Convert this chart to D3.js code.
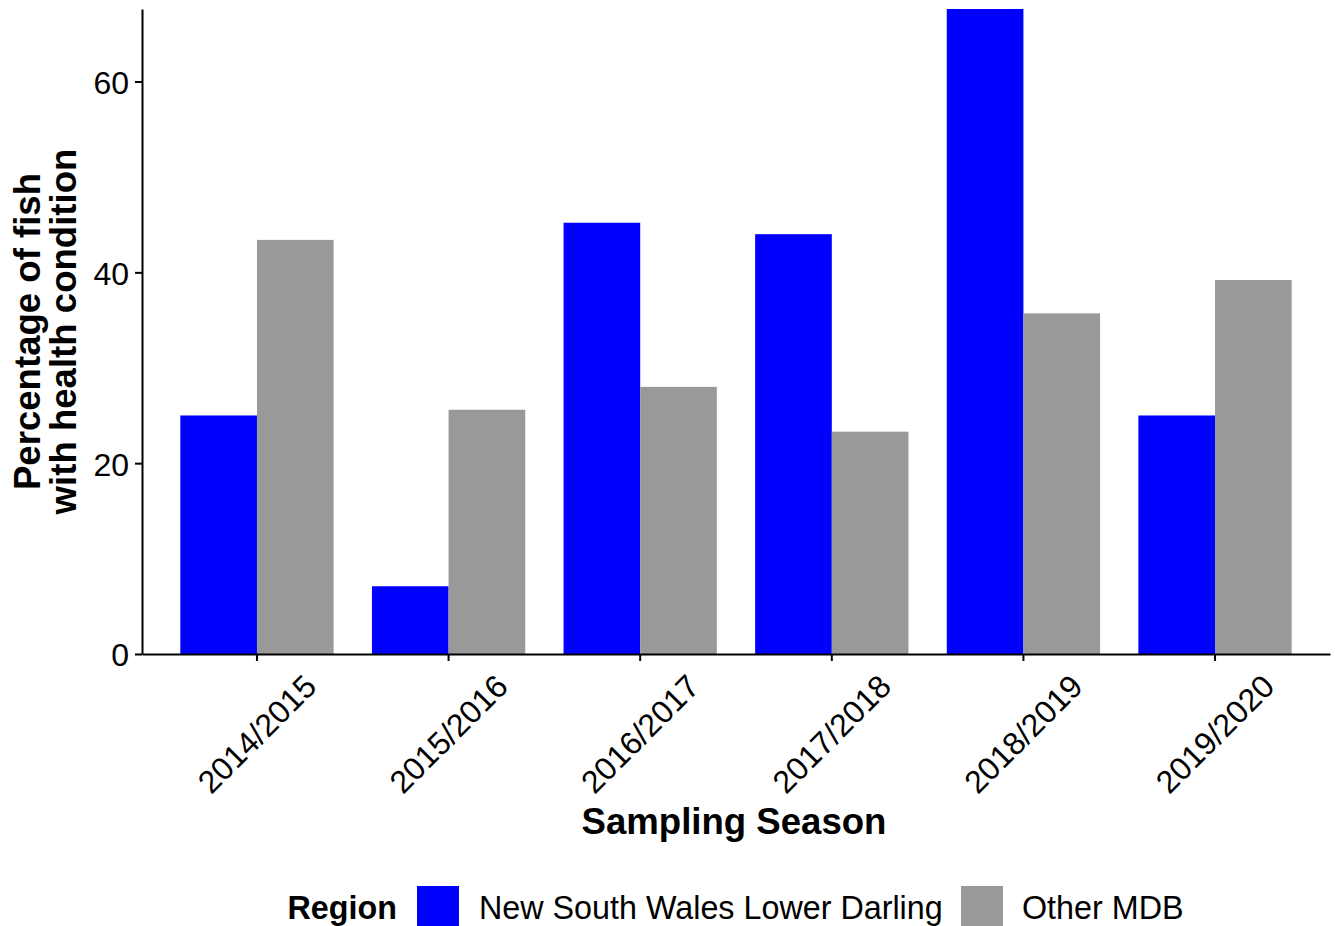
<!DOCTYPE html>
<html>
<head>
<meta charset="utf-8">
<script src="https://cdn.jsdelivr.net/npm/d3@7"></script>
<style>
  html, body { margin: 0; padding: 0; background: #ffffff; }
  svg { display: block; font-family: "Liberation Sans", Arial, sans-serif; }
</style>
</head>
<body>
<svg id="chart" width="1335" height="926"></svg>
<script>
// Sampling seasons (x categories)
const seasons = ["2014/2015", "2015/2016", "2016/2017", "2017/2018", "2018/2019", "2019/2020"];
// Regions (fill groups)
const regions = ["New South Wales Lower Darling", "Other MDB"];
const regionColors = ["#0000ff", "#999999"];
// Percentage of fish with a health condition, per season
const nswLowerDarling = [25.0, 7.1, 45.2, 44.0, 67.6, 25.0];
const otherMDB = [43.4, 25.6, 28.0, 23.3, 35.7, 39.2];
// Y axis ticks
const yTicks = [0, 20, 40, 60];
const yMax = 67.6;

const seriesByRegion = [nswLowerDarling, otherMDB];
const rows = [];
seasons.forEach((s, i) => {
  regions.forEach((r, j) => rows.push({ season: s, region: r, value: seriesByRegion[j][i] }));
});

const svg = d3.select("#chart");
const plot = { left: 142, right: 1330, top: 9, bottom: 654 };
const FONT = "Liberation Sans, Arial, sans-serif";

const x = d3.scaleBand().domain(seasons)
  .range([plot.left, plot.right]).paddingInner(0.2).paddingOuter(0.2);
const xInner = d3.scaleBand().domain(regions).range([0, x.bandwidth()]).padding(0);
const y = d3.scaleLinear().domain([0, yMax]).range([plot.bottom, plot.top]);
const color = d3.scaleOrdinal().domain(regions).range(regionColors);

// Bars
svg.append("g").selectAll("rect").data(rows).join("rect")
  .attr("x", d => x(d.season) + xInner(d.region))
  .attr("y", d => y(d.value))
  .attr("width", xInner.bandwidth())
  .attr("height", d => y(0) - y(d.value))
  .attr("fill", d => color(d.region));

// Y axis
const yAxis = svg.append("g")
  .attr("transform", `translate(${plot.left},0)`)
  .call(d3.axisLeft(y).tickValues(yTicks).tickSize(7).tickSizeOuter(0).tickPadding(6));
yAxis.selectAll("text").attr("font-size", 32).attr("fill", "#000")
  .attr("font-family", FONT).attr("dy", "0.37em");

// X axis
const xAxis = svg.append("g")
  .attr("transform", `translate(0,${plot.bottom})`)
  .call(d3.axisBottom(x).tickSize(7).tickSizeOuter(0));
xAxis.selectAll(".tick text")
  .attr("font-size", 32).attr("fill", "#000")
  .attr("font-family", FONT)
  .attr("text-anchor", "middle")
  .attr("dominant-baseline", "central")
  .attr("y", 0).attr("dy", 0)
  .attr("transform", "translate(0,80) rotate(-45)");

svg.selectAll(".domain, .tick line").attr("stroke", "#000").attr("stroke-width", 2);

// Axis titles
svg.append("text")
  .attr("x", (plot.left + plot.right) / 2 - 2)
  .attr("y", 834)
  .attr("text-anchor", "middle")
  .attr("font-size", 36.6).attr("font-weight", "bold")
  .text("Sampling Season");

const yTitle = svg.append("text")
  .attr("transform", `translate(0,${(plot.top + plot.bottom) / 2}) rotate(-90)`)
  .attr("text-anchor", "middle")
  .attr("font-size", 36.6).attr("font-weight", "bold");
yTitle.append("tspan").attr("x", 0).attr("y", 40).text("Percentage of fish");
yTitle.append("tspan").attr("x", 0).attr("y", 76).text("with health condition");

// Legend (horizontal, below the panel)
const legend = svg.append("g");
const keySize = 42, keyTop = 886, baseline = 919;
const legendLayout = { titleRight: 397, keyX: [417, 961], textX: [479, 1022] };
legend.append("text").attr("x", legendLayout.titleRight).attr("y", baseline)
  .attr("text-anchor", "end")
  .attr("font-size", 32.3).attr("font-weight", "bold").text("Region");
legend.selectAll("rect.key").data(regions).join("rect").attr("class", "key")
  .attr("x", (d, i) => legendLayout.keyX[i]).attr("y", keyTop)
  .attr("width", keySize).attr("height", keySize)
  .attr("fill", d => color(d));
legend.selectAll("text.label").data(regions).join("text").attr("class", "label")
  .attr("x", (d, i) => legendLayout.textX[i]).attr("y", baseline)
  .attr("font-size", 32.3).text(d => d);
</script>
</body>
</html>
